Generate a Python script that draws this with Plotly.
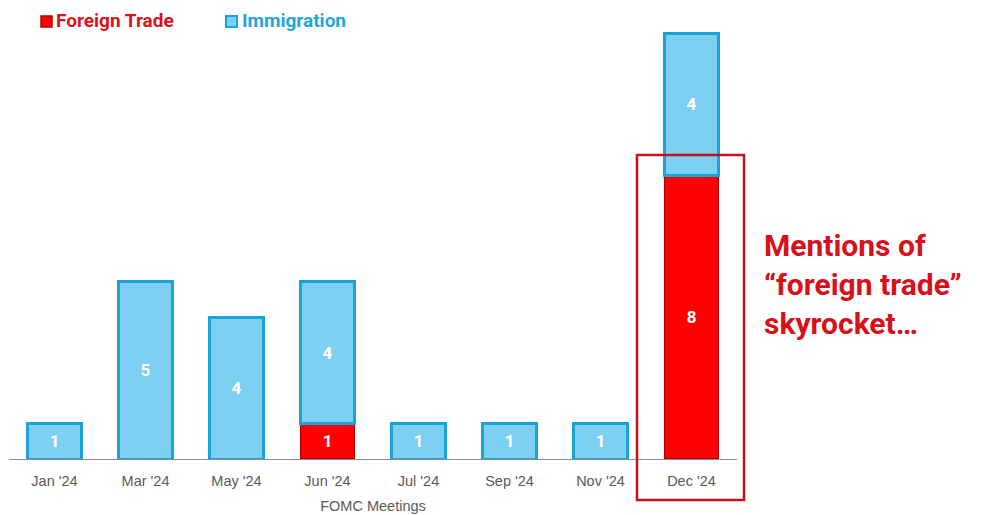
import plotly.graph_objects as go

meetings = ["Jan '24", "Mar '24", "May '24", "Jun '24", "Jul '24", "Sep '24", "Nov '24", "Dec '24"]
foreign_trade = [None, None, None, 1, None, None, None, 8]
immigration = [1, 5, 4, 4, 1, 1, 1, 4]

RED = "#FF0000"
RED_EDGE = "#B00000"
BLUE = "#7DD0F2"
BLUE_EDGE = "#1AA3D8"

fig = go.Figure()
fig.add_trace(go.Bar(
    x=meetings, y=foreign_trade, name="Foreign Trade",
    marker=dict(color=RED, line=dict(color=RED_EDGE, width=1.5)),
    width=0.59,
    texttemplate="%{y}", textposition="inside", insidetextanchor="middle",
    textangle=0,
    textfont=dict(color="white", size=17, family="Roboto", weight="bold"),
))
fig.add_trace(go.Bar(
    x=meetings, y=immigration, name="Immigration",
    marker=dict(color=BLUE, line=dict(color=BLUE_EDGE, width=3)),
    width=0.59,
    texttemplate="%{y}", textposition="inside", insidetextanchor="middle",
    textangle=0,
    textfont=dict(color="white", size=17, family="Roboto", weight="bold"),
))

# page offset (body margin) and plot area in viewport pixels
OFF = 8
FW, FH = 991, 515
L, R, T, B = 9, 737, 20, 459
W, H = R - L, B - T

def px(xp):
    return (xp - L) / W

def py(yp):
    return (B - yp) / H

shapes = [
    dict(type="rect", xref="paper", yref="paper",
         x0=px(637), x1=px(744), y0=py(500), y1=py(155),
         line=dict(color="#C8101A", width=2.5), fillcolor="rgba(0,0,0,0)", layer="above"),
    dict(type="rect", xref="paper", yref="paper",
         x0=px(41), x1=px(52), y0=py(27), y1=py(16),
         line=dict(color=RED_EDGE, width=1.5), fillcolor=RED),
    dict(type="rect", xref="paper", yref="paper",
         x0=px(226), x1=px(237), y0=py(27), y1=py(16),
         line=dict(color=BLUE_EDGE, width=2), fillcolor=BLUE),
]

annotations = [
    dict(text="Foreign Trade", xref="paper", yref="paper", x=px(54), y=py(21),
         xanchor="left", yanchor="middle", showarrow=False,
         font=dict(family="Roboto", size=19, color="#E0101A", weight="bold")),
    dict(text="Immigration", xref="paper", yref="paper", x=px(240), y=py(21),
         xanchor="left", yanchor="middle", showarrow=False,
         font=dict(family="Roboto", size=19, color="#1FA6DC", weight="bold")),
    dict(text="Mentions of<br>\u201cforeign trade\u201d<br>skyrocket\u2026",
         xref="paper", yref="paper", x=px(762), y=py(284),
         xanchor="left", yanchor="middle", align="left", showarrow=False,
         font=dict(family="Roboto", size=30, color="#D8101A", weight="bold")),
]

fig.update_layout(
    width=FW, height=FH,
    margin=dict(l=L - OFF, r=FW - (R - OFF), t=T - OFF, b=FH - (B - OFF)),
    paper_bgcolor="white", plot_bgcolor="white",
    barmode="stack", showlegend=False,
    shapes=shapes, annotations=annotations,
    xaxis=dict(
        range=[-0.5, 7.5], showline=True, linecolor="#8C8C8C", linewidth=1.2,
        showgrid=False, ticks="", zeroline=False,
        tickfont=dict(family="Liberation Sans, Arial", size=14.5, color="#5A5A5A"),
        ticklabelstandoff=8,
        title=dict(text="FOMC Meetings", standoff=13,
                   font=dict(family="Liberation Sans, Arial", size=14.5, color="#5A5A5A")),
    ),
    yaxis=dict(range=[0, 12.37], visible=False, showgrid=False, zeroline=False),
)

fig.write_html("out.html")
